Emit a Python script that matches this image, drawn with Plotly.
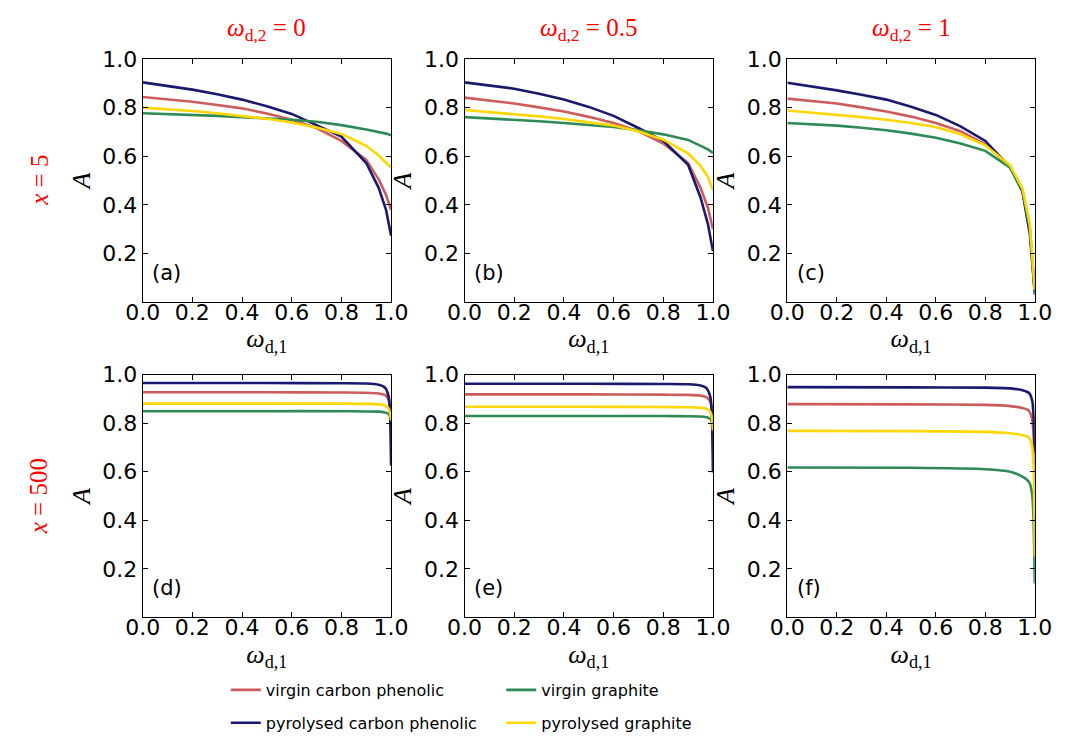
import plotly.graph_objects as go

# ---------------- data ----------------
w_row1 = [0.0, 0.1, 0.2, 0.3, 0.4, 0.5, 0.6, 0.7, 0.8, 0.9, 0.95, 0.98, 1.0]
w_row2 = [0.0, 0.5, 0.8, 0.9, 0.95, 0.97, 0.98, 0.99, 0.995, 1.0]

series_names = ["virgin carbon phenolic", "pyrolysed carbon phenolic",
                "virgin graphite", "pyrolysed graphite"]
series_colors = ["indianred", "midnightblue", "seagreen", "gold"]

# panel (a): x=5, w_d2=0
a_vcp = [0.844, 0.835, 0.824, 0.811, 0.797, 0.776, 0.750, 0.716, 0.663, 0.585, 0.505, 0.440, 0.378]
a_pcp = [0.904, 0.890, 0.874, 0.855, 0.833, 0.806, 0.774, 0.728, 0.681, 0.572, 0.470, 0.378, 0.273]
a_vg = [0.777, 0.774, 0.770, 0.766, 0.761, 0.756, 0.750, 0.742, 0.728, 0.710, 0.700, 0.693, 0.686]
a_pg = [0.800, 0.794, 0.786, 0.777, 0.766, 0.754, 0.739, 0.718, 0.692, 0.643, 0.603, 0.575, 0.553]

# panel (b): x=5, w_d2=0.5
b_vcp = [0.841, 0.830, 0.817, 0.801, 0.784, 0.762, 0.737, 0.703, 0.652, 0.572, 0.470, 0.387, 0.300]
b_pcp = [0.904, 0.892, 0.878, 0.857, 0.833, 0.803, 0.766, 0.716, 0.663, 0.565, 0.430, 0.320, 0.210]
b_vg = [0.761, 0.756, 0.750, 0.744, 0.737, 0.729, 0.720, 0.707, 0.690, 0.667, 0.643, 0.628, 0.614]
b_pg = [0.790, 0.782, 0.774, 0.764, 0.753, 0.741, 0.726, 0.703, 0.668, 0.612, 0.560, 0.515, 0.461]

# panel (c): x=5, w_d2=1
c_vcp = [0.837, 0.828, 0.817, 0.801, 0.784, 0.763, 0.737, 0.703, 0.649, 0.559, 0.460, 0.300, 0.040]
c_pcp = [0.902, 0.888, 0.871, 0.853, 0.833, 0.804, 0.770, 0.723, 0.663, 0.555, 0.454, 0.280, 0.040]
c_vg = [0.737, 0.732, 0.726, 0.717, 0.707, 0.693, 0.676, 0.652, 0.622, 0.553, 0.460, 0.300, 0.030]
c_pg = [0.788, 0.780, 0.770, 0.761, 0.750, 0.737, 0.720, 0.690, 0.645, 0.562, 0.468, 0.320, 0.050]

# panel (d): x=500, w_d2=0
d_vcp = [0.927, 0.927, 0.926, 0.925, 0.922, 0.918, 0.912, 0.895, 0.870, 0.800]
d_pcp = [0.965, 0.965, 0.964, 0.963, 0.958, 0.950, 0.940, 0.910, 0.860, 0.625]
d_vg = [0.849, 0.849, 0.849, 0.848, 0.847, 0.845, 0.842, 0.837, 0.830, 0.820]
d_pg = [0.880, 0.880, 0.880, 0.879, 0.877, 0.874, 0.870, 0.860, 0.845, 0.810]

# panel (e): x=500, w_d2=0.5
e_vcp = [0.918, 0.918, 0.917, 0.916, 0.913, 0.908, 0.902, 0.885, 0.860, 0.780]
e_pcp = [0.962, 0.962, 0.961, 0.960, 0.955, 0.947, 0.935, 0.905, 0.850, 0.597]
e_vg = [0.829, 0.829, 0.829, 0.828, 0.827, 0.825, 0.822, 0.817, 0.810, 0.790]
e_pg = [0.867, 0.867, 0.866, 0.865, 0.863, 0.860, 0.856, 0.845, 0.830, 0.770]

# panel (f): x=500, w_d2=1
f_vcp = [0.878, 0.877, 0.875, 0.870, 0.862, 0.855, 0.845, 0.810, 0.750, 0.550]
f_pcp = [0.948, 0.947, 0.946, 0.943, 0.935, 0.928, 0.920, 0.890, 0.830, 0.680]
f_vg = [0.617, 0.616, 0.610, 0.600, 0.580, 0.565, 0.550, 0.500, 0.400, 0.140]
f_pg = [0.768, 0.767, 0.764, 0.758, 0.750, 0.744, 0.735, 0.700, 0.620, 0.250]

panel_labels = ["(a)", "(b)", "(c)", "(d)", "(e)", "(f)"]
col_titles = ["0", "0.5", "1"]
row_titles = ["5", "500"]
x_ticks = [0.0, 0.2, 0.4, 0.6, 0.8, 1.0]
y_ticks = [0.2, 0.4, 0.6, 0.8, 1.0]

panels = [
    (w_row1, [a_vcp, a_pcp, a_vg, a_pg]),
    (w_row1, [b_vcp, b_pcp, b_vg, b_pg]),
    (w_row1, [c_vcp, c_pcp, c_vg, c_pg]),
    (w_row2, [d_vcp, d_pcp, d_vg, d_pg]),
    (w_row2, [e_vcp, e_pcp, e_vg, e_pg]),
    (w_row2, [f_vcp, f_pcp, f_vg, f_pg]),
]

# ---------------- layout geometry ----------------
W, H = 1076, 740
col_px = [(129, 386), (462, 719), (796, 1052)]
row_px = [(48, 296), (370, 618)]

fig = go.Figure()
layout = {}
annotations = []

TICKFONT = dict(family="DejaVu Sans", size=22, color="black")
SERIF = "Liberation Serif"

for i, (wgrid, ys) in enumerate(panels):
    r, c = divmod(i, 3)
    n = i + 1
    xa = "x" if n == 1 else f"x{n}"
    ya = "y" if n == 1 else f"y{n}"
    for k, yv in enumerate(ys):
        leg = "legend" if k in (0, 1) else "legend2"
        fig.add_trace(go.Scatter(
            x=wgrid, y=yv, mode="lines",
            line=dict(color=series_colors[k], width=2.6,
                      shape="spline" if r == 1 else "linear", smoothing=0.6),
            name=series_names[k], xaxis=xa, yaxis=ya,
            showlegend=(i == 0), legend=leg,
            legendgroup=series_names[k],
        ))
    x0, x1 = col_px[c]
    y0, y1 = row_px[r]
    axis_common = dict(
        showline=True, linecolor="black", linewidth=1.2, mirror="ticks",
        ticks="inside", ticklen=5, tickwidth=1.2, tickcolor="black",
        showgrid=False, zeroline=False, tickfont=TICKFONT,
    )
    layout["xaxis" if n == 1 else f"xaxis{n}"] = dict(
        domain=[x0 / W, x1 / W], anchor=ya, range=[0, 1],
        tickvals=x_ticks, tickformat=".1f", ticklabelstandoff=-10,
        title=dict(text="<i>ω</i><sub>d,1</sub>",
                   font=dict(family=SERIF, size=26, color="black"), standoff=4),
        **axis_common,
    )
    layout["yaxis" if n == 1 else f"yaxis{n}"] = dict(
        domain=[1 - y1 / H, 1 - y0 / H], anchor=xa, range=[0, 1],
        tickvals=y_ticks, tickformat=".1f",
        title=dict(text="<i>A</i>",
                   font=dict(family=SERIF, size=26, color="black"), standoff=4),
        **axis_common,
    )
    annotations.append(dict(
        text=panel_labels[i], xref=f"{xa} domain", yref=f"{ya} domain",
        x=0.03, y=0.12, xanchor="left", yanchor="middle", showarrow=False,
        font=dict(family="DejaVu Sans", size=21, color="black"),
    ))

for c, t in enumerate(col_titles):
    x0, x1 = col_px[c]
    annotations.append(dict(
        text=f"<i>ω</i><sub>d,2</sub> = {t}", xref="paper", yref="paper",
        x=(x0 + x1) / 2 / W, y=1 - 18 / H, xanchor="center", yanchor="middle",
        showarrow=False, font=dict(family=SERIF, size=25, color="red"),
    ))
for r, t in enumerate(row_titles):
    y0, y1 = row_px[r]
    annotations.append(dict(
        text=f"<i>x</i> = {t}", xref="paper", yref="paper",
        x=22 / W, y=1 - (y0 + y1) / 2 / H, xanchor="center", yanchor="middle",
        textangle=-90, showarrow=False,
        font=dict(family=SERIF, size=25, color="red"),
    ))

legend_common = dict(
    orientation="v", yanchor="top", xanchor="left",
    bgcolor="rgba(0,0,0,0)", borderwidth=0, itemwidth=30,
    font=dict(family="DejaVu Sans", size=16, color="black"),
    tracegroupgap=9,
)

fig.update_layout(
    width=W, height=H,
    margin=dict(l=0, r=0, t=0, b=0),
    paper_bgcolor="white", plot_bgcolor="white",
    annotations=annotations,
    legend=dict(x=215 / W, y=1 - 675 / H, **legend_common),
    legend2=dict(x=500 / W, y=1 - 675 / H, **legend_common),
    **layout,
)

fig.write_html("out.html")
